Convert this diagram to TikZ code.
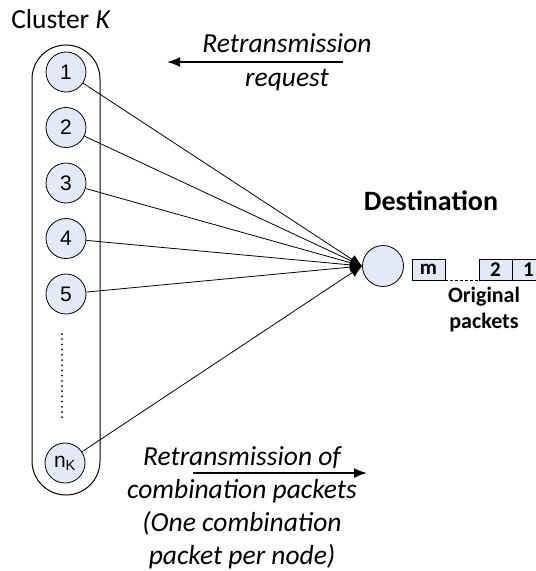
\documentclass[tikz,border=0pt]{standalone}
\usepackage{fontspec}
\setmainfont{Carlito}
\newfontfamily\arialfont{Liberation Sans}
\usetikzlibrary{arrows.meta}
\definecolor{nodefill}{RGB}{228,234,245}

\tikzset{
  relay/.style={draw, fill=nodefill, circle, minimum size=40pt, inner sep=0pt,
    font=\arialfont\fontsize{21}{21}\selectfont},
  pkt/.style={draw, fill=nodefill, minimum width=33pt, minimum height=21pt,
    inner sep=0pt, font=\bfseries\fontsize{21}{21}\selectfont},
  link/.style={draw, -{Latex[length=12pt,width=10pt]}},
  bigarrow/.style={draw, line width=1.8pt, -{Latex[length=13pt,width=10pt]}}
}

\begin{document}
\begin{tikzpicture}[x=1pt, y=-1pt, line width=0.8pt]
  \useasboundingbox (0,0) rectangle (536,571);
  \node[font=\fontsize{27.5}{27.5}\selectfont] (title) at (61,19) {Cluster \textit{K}};
  % the cluster
  \path[draw, line width=1pt, rounded corners=34pt] (32,45) rectangle (100,495);
  \foreach \i in {1,...,5}
  {
    \pgfmathsetmacro\yy{72+55.5*(\i-1)}
    \node[relay] (n\i) at (66,\yy) {\i};
  }
  \node[relay] (nK) at (65,463) {n\textsubscript{K}};
  \coordinate (dtop) at (62,334);
  \coordinate (dbot) at (62,418);
  \path[draw, line width=2pt, line cap=round, dash pattern=on 0pt off 5.2pt] (dtop) -- (dbot);

  % destination
  \node[draw, fill=nodefill, circle, minimum size=41pt] (dest) at (383,266) {};
  \node[font=\bfseries\fontsize{28}{28}\selectfont] (destlabel) at (431,201) {Destination};
  \foreach \i in {1,...,5,K}
    \path[link] (n\i) -- (dest.west);

  % packets
  \node[pkt] (pm) at (428.5,269.5) {m};
  \node[pkt] (p2) at (495.5,269.5) {2};
  \node[pkt] (p1) at (528.5,269.5) {1};
  \path[draw, line width=1pt, densely dashed] (pm.south east) -- (p2.south west);
  \node[font=\bfseries\fontsize{22}{26}\selectfont, align=center] (origlabel) at (484,310) {Original\\packets};

  % retransmission
  \node[font=\itshape\fontsize{27.5}{34}\selectfont, align=center] (reqlabel) at (287,62) {Retransmission\\request};
  \coordinate (reqstart) at (343,62);
  \coordinate (reqend) at (167,62);
  \path[bigarrow] (reqstart) -- (reqend);
  \node[font=\itshape\fontsize{27.5}{33}\selectfont, align=center] (comblabel) at (242,508)
    {Retransmission of\\combination packets\\(One combination\\packet per node)};
  \coordinate (combstart) at (193,473);
  \coordinate (combend) at (367,473);
  \path[bigarrow] (combstart) -- (combend);
\end{tikzpicture}
\end{document}
